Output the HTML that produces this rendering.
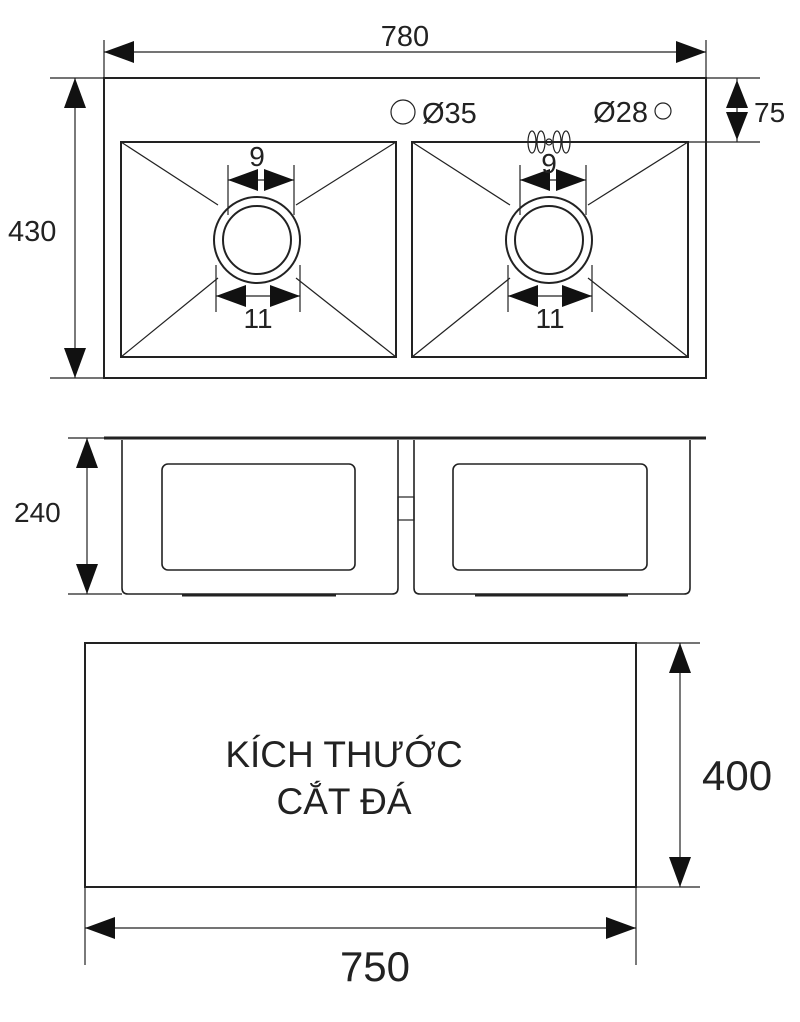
<!DOCTYPE html>
<html><head><meta charset="utf-8"><style>body{margin:0;background:#fff}svg{display:block}text{font-family:"Liberation Sans",sans-serif;fill:#222}</style></head><body>
<svg width="800" height="1022" viewBox="0 0 800 1022" xmlns="http://www.w3.org/2000/svg">
<defs>
<marker id="b" viewBox="0 0 10 10" refX="10" refY="5" markerWidth="30" markerHeight="22" markerUnits="userSpaceOnUse" orient="auto-start-reverse" preserveAspectRatio="none"><path d="M0,0L10,5L0,10z" fill="#111"/></marker>
</defs>
<g stroke="#222" fill="none" stroke-width="1.2">
<rect x="104" y="78" width="602" height="300" stroke-width="2"/>
<line x1="104" y1="40" x2="104" y2="78"/><line x1="706" y1="40" x2="706" y2="78"/>
<line x1="104" y1="52" x2="706" y2="52" marker-start="url(#b)" marker-end="url(#b)"/>
<line x1="50" y1="78" x2="104" y2="78"/><line x1="50" y1="378" x2="104" y2="378"/>
<line x1="75" y1="78" x2="75" y2="378" marker-start="url(#b)" marker-end="url(#b)"/>
<line x1="706" y1="78" x2="760" y2="78"/><line x1="688" y1="142" x2="760" y2="142"/>
<line x1="737" y1="78" x2="737" y2="142"/>
<path d="M726,108L737,80L748,108zM726,112L737,140L748,112z" fill="#111" stroke="none"/>
<rect x="121" y="142" width="275" height="215" stroke-width="2"/>
<rect x="412" y="142" width="276" height="215" stroke-width="2"/>
<line x1="121" y1="142" x2="218" y2="205"/><line x1="396" y1="142" x2="296" y2="205"/>
<line x1="121" y1="357" x2="218" y2="278"/><line x1="396" y1="357" x2="296" y2="278"/>
<line x1="412" y1="142" x2="510" y2="205"/><line x1="688" y1="142" x2="588" y2="205"/>
<line x1="412" y1="357" x2="510" y2="278"/><line x1="688" y1="357" x2="588" y2="278"/>
<circle cx="257" cy="240" r="43" stroke-width="2"/><circle cx="257" cy="240" r="34" stroke-width="2"/>
<circle cx="549" cy="240" r="43" stroke-width="2"/><circle cx="549" cy="240" r="34" stroke-width="2"/>
<line x1="228" y1="165" x2="228" y2="215"/><line x1="294" y1="165" x2="294" y2="215"/>
<line x1="228" y1="180" x2="294" y2="180" marker-start="url(#b)" marker-end="url(#b)"/>
<line x1="520" y1="165" x2="520" y2="215"/><line x1="586" y1="165" x2="586" y2="215"/>
<line x1="520" y1="180" x2="586" y2="180" marker-start="url(#b)" marker-end="url(#b)"/>
<line x1="216" y1="265" x2="216" y2="312"/><line x1="300" y1="265" x2="300" y2="312"/>
<line x1="216" y1="296" x2="300" y2="296" marker-start="url(#b)" marker-end="url(#b)"/>
<line x1="508" y1="265" x2="508" y2="312"/><line x1="592" y1="265" x2="592" y2="312"/>
<line x1="508" y1="296" x2="592" y2="296" marker-start="url(#b)" marker-end="url(#b)"/>
<circle cx="403" cy="112" r="12"/><circle cx="663" cy="111" r="8"/>
<ellipse cx="532" cy="142" rx="4" ry="11"/><ellipse cx="541" cy="142" rx="4" ry="11"/><ellipse cx="557" cy="142" rx="4" ry="11"/><ellipse cx="566" cy="142" rx="4" ry="11"/><circle cx="549" cy="142" r="3"/>
<line x1="104" y1="438" x2="706" y2="438" stroke-width="3"/>
<path d="M122,440V588Q122,594 128,594H392Q398,594 398,588V440" stroke-width="1.6"/>
<path d="M414,440V588Q414,594 420,594H684Q690,594 690,588V440" stroke-width="1.6"/>
<rect x="162" y="464" width="193" height="106" rx="6" stroke-width="1.6"/>
<rect x="453" y="464" width="194" height="106" rx="6" stroke-width="1.6"/>
<rect x="398" y="497" width="16" height="23"/>
<line x1="182" y1="595" x2="336" y2="595" stroke-width="3"/><line x1="475" y1="595" x2="628" y2="595" stroke-width="3"/>
<line x1="68" y1="438" x2="104" y2="438"/><line x1="68" y1="594" x2="122" y2="594"/>
<line x1="87" y1="438" x2="87" y2="594" marker-start="url(#b)" marker-end="url(#b)"/>
<rect x="85" y="643" width="551" height="244" stroke-width="2"/>
<line x1="636" y1="643" x2="700" y2="643"/><line x1="636" y1="887" x2="700" y2="887"/>
<line x1="680" y1="643" x2="680" y2="887" marker-start="url(#b)" marker-end="url(#b)"/>
<line x1="85" y1="887" x2="85" y2="965"/><line x1="636" y1="887" x2="636" y2="965"/>
<line x1="85" y1="928" x2="636" y2="928" marker-start="url(#b)" marker-end="url(#b)"/>
</g>
<text x="405" y="46" font-size="29" text-anchor="middle">780</text>
<text x="8" y="241" font-size="29">430</text>
<text x="754" y="122" font-size="28">75</text>
<text x="422" y="123" font-size="29">Ø35</text>
<text x="648" y="122" font-size="29" text-anchor="end">Ø28</text>
<text x="257" y="166" font-size="28" text-anchor="middle">9</text>
<text x="549" y="173" font-size="28" text-anchor="middle">9</text>
<text x="258" y="328" font-size="28" text-anchor="middle">11</text>
<text x="550" y="328" font-size="28" text-anchor="middle">11</text>
<text x="14" y="522" font-size="28">240</text>
<text x="344" y="767" font-size="37" text-anchor="middle">KÍCH THƯỚC</text>
<text x="344" y="814" font-size="37" text-anchor="middle">CẮT ĐÁ</text>
<text x="702" y="790" font-size="42">400</text>
<text x="375" y="981" font-size="42" text-anchor="middle">750</text>
</svg>
</body></html>
